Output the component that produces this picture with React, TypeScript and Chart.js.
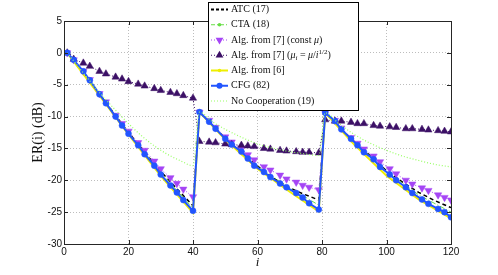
import React, { useEffect, useRef } from 'react';
import { Chart, registerables } from 'chart.js';
Chart.register(...registerables);

// ---- data ----
const xTickValues = [0, 20, 40, 60, 80, 100, 120];
const yTickValues = [5, 0, -5, -10, -15, -20, -25, -30];

// marker iterations shared by CFG and both Alg. from [7] curves
const iMarks = [1, 3, 6, 8, 11, 13, 16, 18, 20, 23, 25, 28, 30, 33, 35, 37, 40,
  42, 45, 47, 50, 52, 55, 57, 59, 62, 64, 67, 69, 72, 74, 76, 79,
  81, 84, 86, 89, 91, 93, 96, 98, 101, 103, 106, 108, 111, 113, 116, 118, 120];

const erCFG = [0.0, -1.1, -2.9, -4.3, -6.5, -7.9, -10.0, -11.4, -12.7, -14.5, -15.9, -17.7, -19.1, -20.8, -21.9, -23.1, -24.8,
  -9.3, -10.8, -11.9, -13.5, -14.4, -15.5, -16.6, -17.7, -18.7, -19.5, -20.5, -21.1, -22.0, -22.7, -23.6, -24.6,
  -9.4, -10.7, -12.0, -13.5, -14.5, -15.6, -16.7, -17.9, -19.1, -20.0, -21.1, -22.0, -23.0, -23.7, -24.5, -25.0, -25.8];

const erAlg7Const = [0.0, -1.1, -2.9, -4.2, -6.4, -7.7, -9.8, -11.1, -12.3, -14.1, -15.3, -17.0, -18.2, -19.6, -20.5, -21.4, -22.6,
  -9.3, -10.6, -11.7, -13.2, -14.0, -15.0, -16.0, -16.8, -17.9, -18.4, -19.2, -19.8, -20.3, -20.8, -21.1, -21.5,
  -9.4, -10.6, -11.8, -13.3, -14.2, -15.1, -16.2, -17.1, -18.2, -19.0, -20.0, -20.6, -21.2, -21.6, -22.3, -22.7, -23.1];

const erAlg7Sqrt = [0.0, -1.0, -1.6, -2.1, -2.9, -3.3, -3.8, -4.1, -4.5, -4.9, -5.2, -5.6, -5.9, -6.2, -6.4, -6.7, -7.1,
  -13.9, -14.0, -14.1, -14.3, -14.4, -14.5, -14.6, -14.7, -15.0, -15.1, -15.3, -15.4, -15.5, -15.6, -15.6, -15.7,
  -10.5, -10.7, -10.7, -10.9, -11.1, -11.1, -11.4, -11.5, -11.6, -11.7, -11.9, -11.9, -12.0, -12.1, -12.2, -12.3, -12.4];

const iATC = [1, 10, 20, 26, 30, 34, 37, 40, 42, 50, 56, 62, 66, 70, 74, 79, 81, 88, 95, 100, 105, 110, 115, 120];
const erATC = [0, -5.8, -12.5, -16.2, -18.6, -20.8, -22.4, -24.0,
  -9.3, -13.4, -16.0, -18.6, -20.0, -21.2, -22.1, -23.1,
  -9.4, -13.0, -16.2, -18.5, -20.3, -21.9, -23.2, -24.3];

const iCTA = [1, 10, 20, 30, 40, 42, 50, 60, 70, 79, 81, 90, 100, 110, 120];
const erCTA = [0, -5.8, -12.5, -18.8, -24.4, -9.3, -13.4, -17.8, -21.2, -23.9, -9.4, -14.0, -18.6, -22.3, -25.0];

const iAlg6 = [1, 10, 20, 30, 40, 42, 50, 60, 70, 79, 81, 90, 100, 110, 120];
const erAlg6 = [0, -6.0, -12.8, -19.3, -25.1, -9.3, -13.6, -18.2, -21.8, -24.9, -9.4, -14.4, -19.3, -23.0, -26.0];

const iNC = [1, 4, 8, 12, 16, 20, 24, 28, 32, 36, 40,
  42, 46, 50, 54, 58, 62, 66, 70, 74, 79,
  81, 85, 90, 95, 100, 105, 110, 115, 120];
const erNC = [0, -1.9, -4.4, -6.8, -9.0, -11.1, -13.0, -14.6, -15.9, -16.9, -17.7,
  -9.3, -10.8, -12.0, -13.0, -13.9, -14.6, -15.1, -15.5, -15.8, -16.1,
  -9.4, -11.0, -12.8, -14.2, -15.3, -16.2, -16.9, -17.5, -17.9];

// ---- styles ----
const C_ATC = '#000000';
const C_CTA = '#66dd44';
const C_A7C = '#a545f5';
const C_A7S = '#3c1066';
const C_A6 = '#eeee00';
const C_CFG = '#2255ff';
const C_NC = '#99ff66';
const SERIF = '"Liberation Serif", "DejaVu Serif", serif';
const SANS = '"Liberation Sans", Arial, sans-serif';

type Run = { t: string; it?: boolean; s?: 'sub' | 'sup' };
const legendItems: { key: string; runs: Run[] }[] = [
  { key: 'atc', runs: [{ t: 'ATC (17)' }] },
  { key: 'cta', runs: [{ t: 'CTA (18)' }] },
  { key: 'a7c', runs: [{ t: 'Alg. from [7] (const ' }, { t: 'μ', it: true }, { t: ')' }] },
  {
    key: 'a7s', runs: [{ t: 'Alg. from [7] (' }, { t: 'μ', it: true }, { t: 'i', it: true, s: 'sub' },
      { t: ' = ' }, { t: 'μ', it: true }, { t: '/' }, { t: 'i', it: true }, { t: '1/2', s: 'sup' }, { t: ')' }]
  },
  { key: 'a6', runs: [{ t: 'Alg. from [6]' }] },
  { key: 'cfg', runs: [{ t: 'CFG (82)' }] },
  { key: 'nc', runs: [{ t: 'No Cooperation (19)' }] },
];

const pts = (xs: number[], ys: number[]) => xs.map((x, k) => ({ x, y: ys[k] }));

function tri(ctx: CanvasRenderingContext2D, x: number, y: number, r: number, down: boolean, color: string) {
  const s = down ? -1 : 1;
  ctx.beginPath();
  ctx.moveTo(x, y - s * r);
  ctx.lineTo(x + r * 0.866, y + s * r * 0.5);
  ctx.lineTo(x - r * 0.866, y + s * r * 0.5);
  ctx.closePath();
  ctx.fillStyle = color;
  ctx.fill();
}

const framePlugin = {
  id: 'frame',
  afterDraw(chart: any) {
    const { ctx, chartArea: a, scales } = chart;
    ctx.save();
    ctx.strokeStyle = '#262626';
    ctx.lineWidth = 1;
    ctx.setLineDash([]);
    ctx.strokeRect(Math.round(a.left) + 0.5, Math.round(a.top) + 0.5, Math.round(a.right - a.left), Math.round(a.bottom - a.top));
    ctx.beginPath();
    for (const v of xTickValues) {
      const px = Math.round(scales.x.getPixelForValue(v)) + 0.5;
      ctx.moveTo(px, a.bottom); ctx.lineTo(px, a.bottom - 4);
      ctx.moveTo(px, a.top); ctx.lineTo(px, a.top + 4);
    }
    for (const v of yTickValues) {
      const py = Math.round(scales.y.getPixelForValue(v)) + 0.5;
      ctx.moveTo(a.left, py); ctx.lineTo(a.left + 4, py);
      ctx.moveTo(a.right, py); ctx.lineTo(a.right - 4, py);
    }
    ctx.stroke();

    // legend box
    const bx = 208.5, by = 2.5, bw = 150, bh = 108;
    ctx.fillStyle = '#ffffff';
    ctx.fillRect(bx, by, bw, bh);
    ctx.strokeStyle = '#000';
    ctx.strokeRect(bx, by, bw, bh);
    const x0 = 211, x1 = 228, xm = 219.5;
    legendItems.forEach((item, k) => {
      const y = 9.5 + k * 15.25;
      ctx.save();
      ctx.beginPath();
      ctx.moveTo(x0, y); ctx.lineTo(x1, y);
      if (item.key === 'atc') { ctx.strokeStyle = C_ATC; ctx.lineWidth = 2; ctx.setLineDash([3, 2]); }
      else if (item.key === 'cta') { ctx.strokeStyle = C_CTA; ctx.lineWidth = 1.2; ctx.setLineDash([4, 2, 1, 2]); }
      else if (item.key === 'a7c') { ctx.strokeStyle = C_A7C; ctx.lineWidth = 1.2; ctx.setLineDash([1, 2]); }
      else if (item.key === 'a7s') { ctx.strokeStyle = C_A7S; ctx.lineWidth = 1.2; ctx.setLineDash([1, 2]); }
      else if (item.key === 'a6') { ctx.strokeStyle = C_A6; ctx.lineWidth = 2; }
      else if (item.key === 'cfg') { ctx.strokeStyle = C_CFG; ctx.lineWidth = 2; }
      else { ctx.strokeStyle = C_NC; ctx.lineWidth = 1.2; ctx.setLineDash([1, 2]); }
      ctx.stroke();
      ctx.setLineDash([]);
      if (item.key === 'a7c') tri(ctx, xm, y, 4.5, true, C_A7C);
      if (item.key === 'a7s') tri(ctx, xm, y, 4.5, false, C_A7S);
      if (item.key === 'cfg') { ctx.beginPath(); ctx.arc(xm, y, 3, 0, Math.PI * 2); ctx.fillStyle = C_CFG; ctx.fill(); }
      if (item.key === 'cta') { ctx.beginPath(); ctx.arc(xm, y, 1.8, 0, Math.PI * 2); ctx.fillStyle = C_CTA; ctx.fill(); }
      if (item.key === 'a6') { ctx.beginPath(); ctx.arc(xm, y, 1.8, 0, Math.PI * 2); ctx.fillStyle = C_A6; ctx.fill(); }
      ctx.restore();
      // text runs
      let tx = 231;
      ctx.fillStyle = '#111';
      ctx.textBaseline = 'middle';
      ctx.textAlign = 'left';
      for (const r of item.runs) {
        const size = r.s ? 7 : 10;
        ctx.font = `${r.it ? 'italic ' : ''}${size}px ${SERIF}`;
        const dy = r.s === 'sub' ? 2.5 : r.s === 'sup' ? -3.5 : 0;
        ctx.fillText(r.t, tx, y + dy);
        tx += ctx.measureText(r.t).width;
      }
    });
    ctx.restore();
  },
};

export default function App() {
  const ref = useRef<HTMLCanvasElement>(null);
  useEffect(() => {
    document.body.style.margin = '0';
    const chart = new Chart(ref.current!, {
      type: 'line',
      data: {
        datasets: [
          { label: 'ATC (17)', data: pts(iATC, erATC), borderColor: C_ATC, borderWidth: 1.5, borderDash: [4, 3], pointRadius: 0, order: 7 },
          { label: 'CTA (18)', data: pts(iCTA, erCTA), borderColor: C_CTA, borderWidth: 1, borderDash: [5, 2, 1, 2], pointRadius: 0, order: 6 },
          {
            label: 'Alg. from [7] (const μ)', data: pts(iMarks, erAlg7Const), borderColor: C_A7C, borderWidth: 1, borderDash: [1, 2],
            pointStyle: 'triangle', pointRotation: 180, pointRadius: 4.2, pointBackgroundColor: C_A7C, pointBorderColor: C_A7C, pointBorderWidth: 0.5, order: 5
          },
          {
            label: 'Alg. from [7] (μi = μ/i^1/2)', data: pts(iMarks, erAlg7Sqrt), borderColor: C_A7S, borderWidth: 1, borderDash: [1, 2],
            pointStyle: 'triangle', pointRotation: 0, pointRadius: 4.2, pointBackgroundColor: C_A7S, pointBorderColor: C_A7S, pointBorderWidth: 0.5, order: 4
          },
          { label: 'Alg. from [6]', data: pts(iAlg6, erAlg6), borderColor: C_A6, borderWidth: 2, pointRadius: 0, order: 3 },
          {
            label: 'CFG (82)', data: pts(iMarks, erCFG), borderColor: C_CFG, borderWidth: 2,
            pointStyle: 'circle', pointRadius: 3, pointBackgroundColor: C_CFG, pointBorderColor: C_CFG, pointBorderWidth: 0.5, order: 2
          },
          {
            label: 'No Cooperation (19)', data: pts(iNC, erNC), borderColor: C_NC, borderWidth: 1.2, borderDash: [1, 2],
            pointRadius: 0, cubicInterpolationMode: 'monotone', order: 1
          },
        ],
      },
      options: {
        animation: false,
        responsive: false,
        events: [],
        layout: { padding: { left: 0, right: 47, top: 21, bottom: 0 } },
        plugins: { legend: { display: false }, tooltip: { enabled: false } },
        scales: {
          x: {
            type: 'linear', min: 0, max: 120,
            afterFit: (s: any) => { s.height = 31; },
            afterBuildTicks: (s: any) => { s.ticks = xTickValues.map((v) => ({ value: v })); },
            ticks: { padding: 2, color: '#111', font: { family: SANS, size: 10 }, maxRotation: 0 },
            grid: { color: '#bdbdbd', lineWidth: 1, drawTicks: false },
            border: { display: false, dash: [1, 2] },
            title: { display: true, text: 'i', color: '#111', font: { family: SERIF, size: 13, style: 'italic' }, padding: { top: 0, bottom: 5 } },
          },
          y: {
            type: 'linear', min: -30, max: 5,
            afterFit: (s: any) => { s.width = 64; },
            afterBuildTicks: (s: any) => { s.ticks = yTickValues.map((v) => ({ value: v })); },
            ticks: { padding: 2, color: '#111', font: { family: SANS, size: 10 } },
            grid: { color: '#bdbdbd', lineWidth: 1, drawTicks: false },
            border: { display: false, dash: [1, 2] },
            title: { display: true, text: 'ER(i) (dB)', color: '#111', font: { family: SERIF, size: 14 }, padding: { top: 30, bottom: 0 } },
          },
        },
      },
      plugins: [framePlugin],
    } as any);
    return () => chart.destroy();
  }, []);
  return (
    <div style={{ width: 498, height: 275 }}>
      <canvas ref={ref} width={498} height={275} style={{ display: 'block' }} />
    </div>
  );
}
